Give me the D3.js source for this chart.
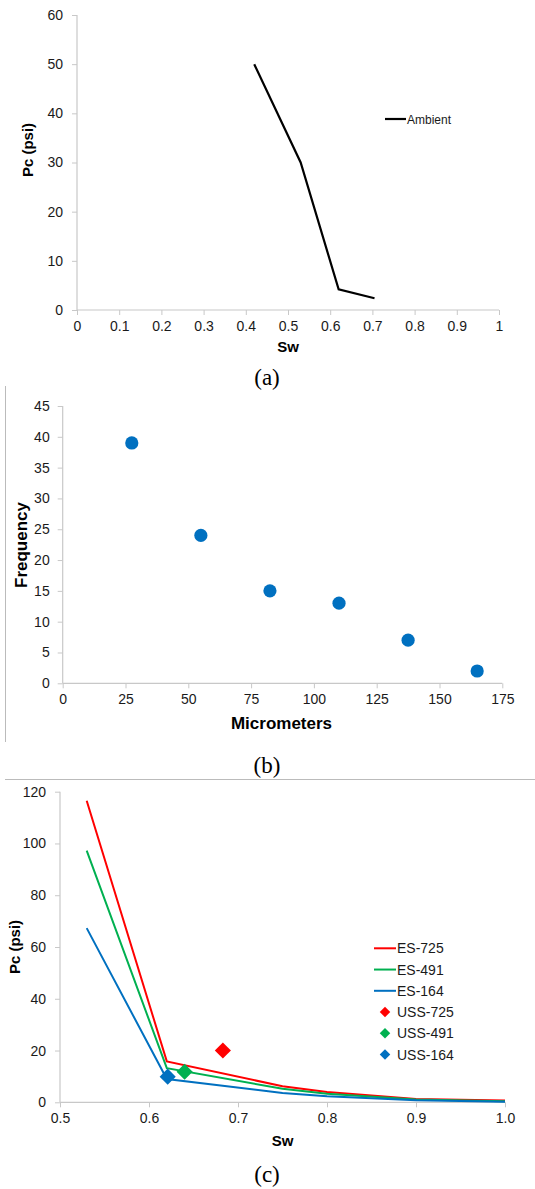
<!DOCTYPE html>
<html>
<head>
<meta charset="utf-8">
<script src="https://cdn.jsdelivr.net/npm/d3@7"></script>
<style>
  body { margin: 0; background: #fff; }
  svg { display: block; }
  .tick text { font-family: "Liberation Sans", Arial, sans-serif; fill: #1a1a1a; }
</style>
</head>
<body>
<div id="chart"></div>
<script>
// ---- panel (a): capillary pressure, ambient
const ambientSw = [0.42, 0.53, 0.62, 0.705];
const ambientPc = [50, 30, 4.2, 2.4];
const aXTicks = [0, 0.1, 0.2, 0.3, 0.4, 0.5, 0.6, 0.7, 0.8, 0.9, 1];
const aYTicks = [0, 10, 20, 30, 40, 50, 60];

// ---- panel (b): pore size frequency
const microns = [27.5, 55, 82.5, 110, 137.5, 165];
const frequency = [39, 24, 15, 13, 7, 2];
const bXTicks = [0, 25, 50, 75, 100, 125, 150, 175];
const bYTicks = [0, 5, 10, 15, 20, 25, 30, 35, 40, 45];

// ---- panel (c): ES curves and USS points
const esSw = [0.53, 0.62, 0.75, 0.8, 0.9, 1.0];
const es725 = [116.5, 15.8, 6.2, 4.0, 1.3, 0.7];
const es491 = [97.2, 13.2, 5.2, 3.3, 1.1, 0.4];
const es164 = [67.3, 9.0, 3.6, 2.3, 0.8, 0.2];
const ussNames = ["USS-725", "USS-491", "USS-164"];
const ussSw = [0.683, 0.64, 0.621];
const ussPc = [20, 11.8, 9.9];
const cXTicks = [0.5, 0.6, 0.7, 0.8, 0.9, 1.0];
const cYTicks = [0, 20, 40, 60, 80, 100, 120];

const W = 535, H = 1189;
const font = '"Liberation Sans", Arial, sans-serif';
const serif = '"Liberation Serif", "Times New Roman", serif';
const axisGray = "#c8c8c8";

const svg = d3.select("#chart").append("svg")
  .attr("width", W).attr("height", H);

// draws axes for a panel and returns scales
function panel(opts) {
  const x = d3.scaleLinear().domain(opts.xDomain).range([opts.left, opts.right]);
  const y = d3.scaleLinear().domain(opts.yDomain).range([opts.bottom, opts.top]);
  const g = svg.append("g");

  const xa = g.append("g")
    .attr("transform", `translate(0,${opts.bottom})`)
    .call(d3.axisBottom(x).tickValues(opts.xTicks).tickFormat(opts.xFmt).tickSize(5).tickPadding(6));
  const ya = g.append("g")
    .attr("transform", `translate(${opts.left},0)`)
    .call(d3.axisLeft(y).tickValues(opts.yTicks).tickSize(5).tickPadding(opts.yPad || 8));
  [xa, ya].forEach(a => {
    a.select(".domain").attr("stroke", axisGray).attr("stroke-width", 1.2);
    a.selectAll(".tick line").attr("stroke", axisGray);
    a.selectAll(".tick text").style("font-size", opts.tickSize + "px");
  });
  // no outer ticks on the domain path
  xa.select(".domain").attr("d", `M${opts.left},0H${opts.right}`);
  ya.select(".domain").attr("d", `M0,${opts.bottom}V${opts.top}`);

  g.append("text")
    .attr("x", (opts.left + opts.right) / 2 + (opts.xTitleDx || 0))
    .attr("y", opts.xTitleY)
    .attr("text-anchor", "middle")
    .attr("font-family", font).attr("font-weight", "bold")
    .attr("font-size", opts.xTitleSize)
    .text(opts.xTitle);
  g.append("text")
    .attr("transform", `translate(${opts.yTitleX},${opts.yTitleCy}) rotate(-90)`)
    .attr("text-anchor", "middle")
    .attr("font-family", font).attr("font-weight", "bold")
    .attr("font-size", opts.yTitleSize)
    .text(opts.yTitle);
  g.append("text")
    .attr("x", 267).attr("y", opts.labelY)
    .attr("text-anchor", "middle")
    .attr("font-family", serif).attr("font-size", 23)
    .text(opts.label);
  return { x, y, g };
}

// ---------- (a)
const A = panel({
  xDomain: [0, 1], yDomain: [0, 60],
  left: 77, right: 499, top: 15, bottom: 310,
  xTicks: aXTicks, yTicks: aYTicks, xFmt: d3.format("~g"),
  tickSize: 14, yPad: 9,
  xTitle: "Sw", xTitleY: 352, xTitleSize: 15,
  yTitle: "Pc (psi)", yTitleX: 33, yTitleCy: 150, yTitleSize: 15,
  label: "(a)", labelY: 385
});
A.g.append("path")
  .datum(d3.zip(ambientSw, ambientPc))
  .attr("fill", "none").attr("stroke", "#000").attr("stroke-width", 2.2)
  .attr("d", d3.line().x(d => A.x(d[0])).y(d => A.y(d[1])));
A.g.append("line")
  .attr("x1", 385).attr("x2", 406).attr("y1", 119).attr("y2", 119)
  .attr("stroke", "#000").attr("stroke-width", 2.2);
A.g.append("text")
  .attr("x", 407).attr("y", 123.5)
  .attr("font-family", font).attr("font-size", 12).attr("fill", "#1a1a1a")
  .text("Ambient");

// frame lines between panels
svg.append("line").attr("x1", 5.5).attr("x2", 5.5).attr("y1", 386).attr("y2", 742)
  .attr("stroke", "#bbb").attr("stroke-width", 1);
svg.append("line").attr("x1", 5).attr("x2", 535).attr("y1", 779.5).attr("y2", 779.5)
  .attr("stroke", "#bbb").attr("stroke-width", 1);

// ---------- (b)
const B = panel({
  xDomain: [0, 175], yDomain: [0, 45],
  left: 62.7, right: 502.3, top: 406, bottom: 683.3,
  xTicks: bXTicks, yTicks: bYTicks, xFmt: d3.format("d"),
  tickSize: 14, yPad: 8,
  xTitle: "Micrometers", xTitleY: 729, xTitleSize: 17, xTitleDx: -1,
  yTitle: "Frequency", yTitleX: 27, yTitleCy: 545, yTitleSize: 17,
  label: "(b)", labelY: 773
});
B.g.selectAll("circle.pt")
  .data(d3.zip(microns, frequency))
  .join("circle")
  .attr("class", "pt")
  .attr("cx", d => B.x(d[0])).attr("cy", d => B.y(d[1]))
  .attr("r", 6.6)
  .attr("fill", "#0070c0");

// ---------- (c)
const C = panel({
  xDomain: [0.5, 1.0], yDomain: [0, 120],
  left: 60, right: 505, top: 791.7, bottom: 1102.3,
  xTicks: cXTicks, yTicks: cYTicks, xFmt: d3.format(".1f"),
  tickSize: 14, yPad: 9,
  xTitle: "Sw", xTitleY: 1146, xTitleSize: 15, xTitleDx: 0,
  yTitle: "Pc (psi)", yTitleX: 20, yTitleCy: 947, yTitleSize: 15,
  label: "(c)", labelY: 1182
});

const esSeries = [
  { name: "ES-725", vals: es725, color: "#ff0000" },
  { name: "ES-491", vals: es491, color: "#00b050" },
  { name: "ES-164", vals: es164, color: "#0070c0" }
];
const ussColors = ["#ff0000", "#00b050", "#0070c0"];

const line = d3.line().x(d => C.x(d[0])).y(d => C.y(d[1]));
C.g.selectAll("path.es")
  .data(esSeries)
  .join("path")
  .attr("class", "es")
  .attr("fill", "none")
  .attr("stroke", d => d.color)
  .attr("stroke-width", 2)
  .attr("d", d => line(d3.zip(esSw, d.vals)));

const diamond = d3.symbol().type(d3.symbolSquare);
C.g.selectAll("path.uss")
  .data(ussNames.map((n, i) => ({ name: n, sw: ussSw[i], pc: ussPc[i], color: ussColors[i] })))
  .join("path")
  .attr("class", "uss")
  .attr("transform", d => `translate(${C.x(d.sw)},${C.y(d.pc)}) rotate(45)`)
  .attr("d", diamond.size(130))
  .attr("fill", d => d.color);

// legend (c)
const legend = C.g.append("g").attr("transform", "translate(374,948.3)");
const rowH = 21.25;
esSeries.forEach((s, i) => {
  legend.append("line")
    .attr("x1", 0).attr("x2", 22).attr("y1", i * rowH).attr("y2", i * rowH)
    .attr("stroke", s.color).attr("stroke-width", 2);
  legend.append("text")
    .attr("x", 23).attr("y", i * rowH + 5)
    .attr("font-family", font).attr("font-size", 14).attr("fill", "#1a1a1a")
    .text(s.name);
});
ussNames.forEach((n, i) => {
  const yy = (i + 3) * rowH;
  legend.append("path")
    .attr("transform", `translate(11,${yy}) rotate(45)`)
    .attr("d", d3.symbol().type(d3.symbolSquare).size(55)())
    .attr("fill", ussColors[i]);
  legend.append("text")
    .attr("x", 23).attr("y", yy + 5)
    .attr("font-family", font).attr("font-size", 14).attr("fill", "#1a1a1a")
    .text(n);
});
</script>
</body>
</html>
